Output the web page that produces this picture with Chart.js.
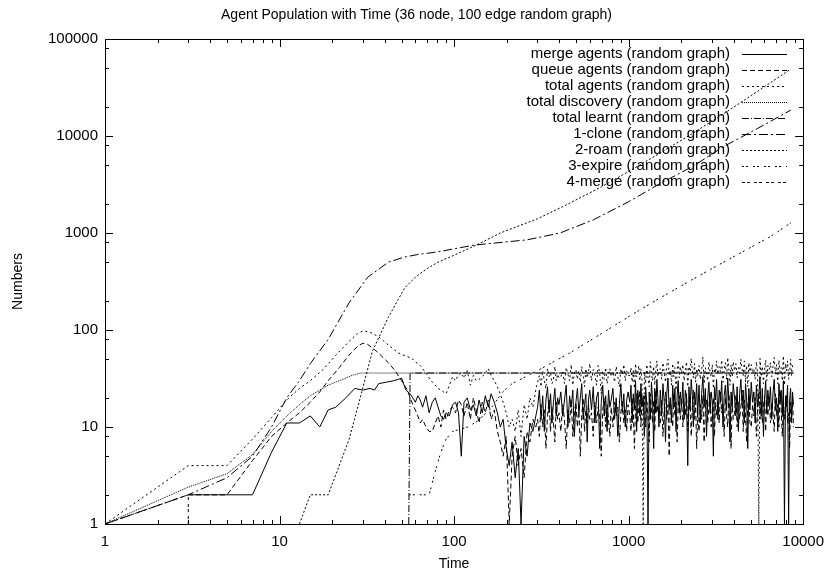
<!DOCTYPE html>
<html>
<head>
<meta charset="utf-8">
<script src="https://cdn.jsdelivr.net/npm/chart.js"></script>
<style>
  html, body { margin: 0; padding: 0; background: #fff; }
</style>
</head>
<body>
<canvas id="chart" width="833" height="574"></canvas>
<script>
// ---- data ----
const titleText = "Agent Population with Time (36 node, 100 edge random graph)";
const xTicks = [1, 10, 100, 1000, 10000];
const yTicks = [1, 10, 100, 1000, 10000, 100000];

const seriesNames = [
  "merge agents (random graph)",
  "queue agents (random graph)",
  "total agents (random graph)",
  "total discovery (random graph)",
  "total learnt (random graph)",
  "1-clone (random graph)",
  "2-roam (random graph)",
  "3-expire (random graph)",
  "4-merge (random graph)"
];

// smooth early part of the agent counts
const mergeTime = [3, 7, 9, 11, 13, 15, 17, 19, 21, 24, 27, 30, 33, 35, 37, 41, 45, 48, 50, 53];
const mergeEarly = [2, 2, 5.5, 11, 11, 13, 10, 15, 16, 20, 25, 24, 25, 24, 28, 29, 30, 31, 32, 24];
const queueTime = [1, 3, 5, 7, 9, 11, 13, 15, 17, 19, 22, 25, 28, 30, 32, 35, 38, 42, 46, 50, 54];
const queueEarly = [1, 2, 2, 4.5, 8, 11, 14, 18, 23, 30, 41, 55, 68, 73, 71, 63, 55, 46, 38, 30, 24];
const totalTime = [1, 3, 5, 7, 9, 11, 13, 15, 18, 21, 25, 28, 30, 33, 37, 42, 48, 54];
const totalEarly = [1, 4, 4, 7.5, 12.5, 19, 25, 30, 40, 55, 76, 92, 98, 95, 85, 70, 58, 53];

// noisy part (shared time grid)
const noiseTime = [
  56, 58, 60, 62, 64, 66, 69, 72, 75, 78,
  81, 84, 87, 90, 94, 98, 102, 106, 110, 114,
  119, 124, 129, 134, 139, 145, 151, 157, 163, 170,
  177, 184, 191, 199, 207, 215, 224, 233, 242, 252,
  262, 272, 283, 294,
  301, 308, 315, 322, 329, 336, 343, 350, 357, 364, 371, 378, 385, 392, 399,
  409, 419, 429, 439, 449, 459, 469, 479, 489, 499, 509, 519, 529, 539, 549, 559, 569, 579, 589, 599,
  613, 627, 641, 655, 669, 683, 697, 711, 725, 739, 753, 767, 781, 795,
  813, 831, 849, 867, 885, 903, 921, 939, 957, 975, 993,
  1016, 1032, 1048, 1064, 1080, 1096, 1112, 1128, 1144, 1160, 1176, 1192,
  1212, 1232, 1252, 1272, 1292, 1312, 1332, 1352, 1372, 1392, 1412, 1432, 1452, 1472, 1492,
  1519, 1546, 1573, 1600, 1627, 1654, 1681, 1708, 1735, 1762, 1789, 1816, 1843, 1870, 1897, 1924, 1951, 1978,
  2012, 2046, 2080, 2114, 2148, 2182, 2216, 2250, 2284, 2318, 2352, 2386, 2420, 2454, 2488,
  2532, 2576, 2620, 2664, 2708, 2752, 2796, 2840, 2884, 2928, 2972, 3016, 3060, 3104, 3148, 3192,
  3248, 3304, 3360, 3416, 3472, 3528, 3584, 3640, 3696, 3752, 3808, 3864, 3920, 3976,
  4046, 4116, 4186, 4256, 4326, 4396, 4466, 4536, 4606, 4676, 4746, 4816, 4886, 4956,
  5044, 5132, 5220, 5308, 5396, 5484, 5572, 5660, 5748, 5836, 5924, 6012, 6100, 6188, 6276,
  6386, 6496, 6606, 6716, 6826, 6936, 7046, 7156, 7266, 7376, 7486, 7596, 7706, 7816, 7926,
  8036, 8146, 8256, 8366, 8476, 8586, 8696, 8800
];
const mergeNoise = [
  22, 20, 18, 21, 19, 16, 21, 14, 18, 20,
  16, 13, 12, 14, 13, 17, 18, 14, 5, 18,
  20, 15, 17, 13, 19, 14, 21, 16, 22, 18,
  14, 10, 12, 6, 4, 7, 3, 6, 1, 8,
  5, 11, 9, 13,
  16, 24, 12, 21, 9, 19, 26, 14, 22, 11, 18, 25, 13, 20, 17,
  23, 13, 19, 27, 10, 21, 16, 24, 8, 18, 25, 14, 20, 28, 12, 17, 22, 7, 19, 24,
  15, 26, 11, 20, 23, 6, 18, 27, 13, 21, 9, 24, 16, 19,
  25, 12, 20, 8, 17, 28, 14, 22, 10, 19, 23,
  18, 27, 11, 22, 15, 30, 9, 24, 19, 13, 28, 16,
  21, 8, 26, 17, 1, 23, 12, 29, 19, 6, 25, 14, 31, 20, 10,
  24, 13, 28, 18, 7, 22, 32, 15, 20, 11, 27, 17, 25, 9, 21, 30, 14, 23,
  16, 29, 12, 24, 19, 4, 26, 15, 31, 21, 10, 23, 17, 28, 13,
  27, 11, 22, 33, 16, 25, 8, 20, 29, 14, 23, 18, 5, 26, 19, 31,
  12, 24, 18, 30, 10, 21, 27, 15, 32, 19, 7, 23, 16, 28,
  20, 13, 26, 9, 22, 31, 17, 24, 11, 28, 19, 6, 25, 15,
  29, 18, 23, 11, 27, 16, 21, 33, 13, 25, 8, 20, 30, 14, 24,
  17, 26, 12, 22, 31, 15, 20, 9, 28, 18, 24, 13, 30, 1, 21,
  16, 27, 1, 19, 25, 11, 23, 17
];
const queueNoise = [
  20, 17, 15, 13, 11, 12, 10, 9, 9, 11,
  13, 10, 15, 12, 15, 16, 14, 19, 17, 13,
  18, 12, 20, 15, 11, 18, 14, 19, 12, 15,
  9, 7, 5, 8, 1, 5, 8, 4, 6, 3,
  9, 7, 12, 10,
  12, 8, 17, 10, 15, 6, 13, 19, 9, 16, 11, 7, 18, 12, 14,
  9, 17, 12, 6, 15, 11, 19, 8, 14, 18, 10, 16, 5, 13, 20, 9, 15, 11, 17, 12,
  14, 8, 18, 11, 16, 13, 5, 15, 20, 10, 17, 12, 8, 16,
  10, 18, 13, 16, 7, 14, 19, 11, 15, 9, 17,
  13, 9, 20, 14, 6, 17, 22, 11, 16, 24, 10, 19,
  16, 21, 10, 18, 13, 7, 22, 15, 11, 19, 9, 24, 14, 17, 12,
  11, 19, 8, 15, 23, 12, 17, 5, 20, 14, 10, 22, 13, 18, 7, 16, 21, 12,
  20, 10, 17, 13, 22, 9, 15, 19, 8, 16, 24, 12, 18, 6, 14,
  9, 17, 12, 21, 7, 15, 19, 11, 16, 23, 10, 14, 20, 8, 18, 13,
  19, 11, 23, 14, 17, 8, 20, 13, 10, 22, 15, 6, 18, 12,
  14, 21, 10, 18, 12, 16, 24, 9, 19, 13, 7, 17, 22, 11,
  10, 17, 13, 20, 8, 15, 23, 12, 18, 11, 16, 21, 9, 19, 13,
  20, 11, 18, 14, 9, 22, 13, 17, 10, 24, 15, 8, 19, 12, 16,
  21, 11, 14, 6, 18, 13, 20, 10
];
const totalNoise = [
  52, 50, 47, 45, 43, 40, 36, 32, 29, 27,
  25, 24, 23, 22, 27, 33, 30, 35, 36, 32,
  38, 27, 34, 30, 31, 33, 36, 40, 34, 30,
  26, 22, 18, 14, 10, 12, 9, 15, 8, 17,
  12, 20, 16, 24,
  29, 34, 26, 38, 30, 25, 40, 33, 36, 28, 31, 42, 30, 35, 32,
  33, 37, 28, 41, 35, 30, 44, 27, 36, 39, 31, 38, 29, 42, 34, 26, 40, 32, 37, 45,
  30, 39, 34, 27, 43, 36, 22, 38, 31, 41, 28, 35, 40, 33,
  37, 29, 42, 33, 26, 40, 35, 44, 30, 38, 34,
  34, 41, 29, 38, 25, 45, 33, 36, 43, 30, 40, 31,
  1, 37, 28, 44, 32, 26, 47, 35, 30, 42, 27, 39, 48, 33, 36,
  40, 31, 46, 36, 29, 43, 50, 34, 38, 27, 45, 33, 41, 24, 37, 49, 32, 42,
  36, 44, 30, 39, 47, 26, 42, 35, 51, 38, 32, 45, 29, 40, 34,
  43, 31, 38, 53, 28, 41, 35, 30, 47, 37, 33, 44, 25, 40, 36, 48,
  35, 42, 37, 49, 29, 39, 46, 31, 52, 40, 27, 44, 33, 47,
  38, 45, 32, 41, 36, 50, 40, 34, 48, 29, 43, 26, 46, 37,
  44, 36, 40, 31, 47, 35, 1, 51, 33, 42, 28, 39, 49, 30, 43,
  39, 46, 33, 42, 52, 35, 44, 28, 49, 37, 41, 30, 54, 27, 45,
  38, 48, 31, 36, 50, 34, 43, 40
];

const discoveryTime = [1, 3, 5, 7, 9, 11, 13, 15, 17, 19, 22, 26, 29, 8800];
const discovery = [1, 2.4, 3.3, 5.2, 9, 13, 17, 21, 24, 27, 30, 34, 36, 36];
const learntTime = [55, 56, 8800];
const learnt = [1, 36, 36];
const cloneTime = [1, 3, 5, 7, 9, 11, 13, 15, 19, 25, 32, 42, 52, 62, 81, 130, 262, 405, 630, 1000, 1500, 2300, 3600, 5500, 8500];
const clone = [1, 2, 3, 5, 10, 20, 30, 45, 80, 190, 350, 500, 565, 600, 640, 750, 850, 1000, 1370, 2100, 3200, 4800, 8000, 12000, 18500];
const roamTime = [13, 15, 19, 25, 29, 34, 42, 52, 60, 70, 81, 100, 136, 184, 300, 440, 700, 1000, 1500, 2300, 3600, 5500, 8500];
const roam = [1, 2, 2, 7.4, 20, 60, 135, 270, 350, 430, 500, 590, 760, 1000, 1400, 1950, 3000, 4300, 6600, 10500, 17500, 29000, 49000];
const expireTime = [55, 72, 78, 84, 90, 98, 120, 136, 160, 190, 215, 300, 460, 720, 1020, 1420, 2000, 3000, 4500, 6500, 8500];
const expire = [2, 2, 3.5, 5.5, 7.5, 9, 10, 11.5, 15, 23, 28, 38, 58, 95, 140, 200, 285, 430, 640, 920, 1270];
const mergeEvTime = [3, 3];
const mergeEv = [1, 2];

// gnuplot-ish dash patterns, one per series
const dashes = [[], [5, 3], [2, 3], [1, 1], [7, 2, 1, 2], [9, 3, 2, 3], [2, 2], [2, 2, 2, 5], [3, 2, 3, 4]];

const FONT = "Liberation Sans, Arial, sans-serif";

function pairs(times, values) {
  if (times.length !== values.length) throw new Error("length mismatch " + times.length + " vs " + values.length);
  return times.map((t, i) => ({ x: t, y: values[i] }));
}

const seriesData = [
  pairs(mergeTime, mergeEarly).concat(pairs(noiseTime, mergeNoise)),
  pairs(queueTime, queueEarly).concat(pairs(noiseTime, queueNoise)),
  pairs(totalTime, totalEarly).concat(pairs(noiseTime, totalNoise)),
  pairs(discoveryTime, discovery),
  pairs(learntTime, learnt),
  pairs(cloneTime, clone),
  pairs(roamTime, roam),
  pairs(expireTime, expire),
  pairs(mergeEvTime, mergeEv)
];

const datasets = seriesNames.map((name, i) => ({
  label: name,
  data: seriesData[i],
  borderColor: "#000",
  borderWidth: 1,
  borderDash: dashes[i],
  pointRadius: 0,
  fill: false,
  tension: 0
}));

// frame with inward ticks on all four sides, like gnuplot's border
const gnuFrame = {
  id: "gnuFrame",
  afterDatasetsDraw(chart) {
    const { ctx, chartArea: a, scales: { x, y } } = chart;
    ctx.save();
    ctx.strokeStyle = "#000";
    ctx.lineWidth = 1;
    ctx.setLineDash([]);
    ctx.strokeRect(Math.round(a.left) + 0.5, Math.round(a.top) + 0.5, Math.round(a.right - a.left), Math.round(a.bottom - a.top));
    ctx.beginPath();
    const xt = (v, len) => {
      const px = Math.round(x.getPixelForValue(v)) + 0.5;
      ctx.moveTo(px, a.bottom); ctx.lineTo(px, a.bottom - len);
      ctx.moveTo(px, a.top); ctx.lineTo(px, a.top + len);
    };
    const yt = (v, len) => {
      const py = Math.round(y.getPixelForValue(v)) + 0.5;
      ctx.moveTo(a.left, py); ctx.lineTo(a.left + len, py);
      ctx.moveTo(a.right, py); ctx.lineTo(a.right - len, py);
    };
    xTicks.forEach(d => {
      xt(d, 8);
      if (d < 10000) for (let m = 2; m <= 9; m++) xt(d * m, 4);
    });
    yTicks.forEach(d => {
      yt(d, 8);
      if (d < 100000) [2, 5, 8].forEach(m => yt(d * m, 4));
    });
    ctx.stroke();
    ctx.restore();
  }
};

// key in the upper right, text right-aligned with the line sample after it
const gnuKey = {
  id: "gnuKey",
  afterDatasetsDraw(chart) {
    const { ctx } = chart;
    ctx.save();
    ctx.font = "15px " + FONT;
    ctx.fillStyle = "#000";
    ctx.textAlign = "right";
    ctx.textBaseline = "middle";
    chart.data.datasets.forEach((ds, i) => {
      const yy = 54 + i * 16;
      ctx.fillText(ds.label, 730, yy);
      ctx.beginPath();
      ctx.setLineDash(ds.borderDash);
      ctx.strokeStyle = "#000";
      ctx.lineWidth = 1;
      ctx.moveTo(742, Math.round(yy) + 0.5);
      ctx.lineTo(787, Math.round(yy) + 0.5);
      ctx.stroke();
    });
    ctx.restore();
  }
};

// title centred on the whole page, as gnuplot does
const gnuTitle = {
  id: "gnuTitle",
  afterDraw(chart) {
    const { ctx, width } = chart;
    ctx.save();
    ctx.font = "14px " + FONT;
    ctx.fillStyle = "#000";
    ctx.textAlign = "center";
    ctx.textBaseline = "middle";
    ctx.fillText(titleText, width / 2, 15);
    ctx.restore();
  }
};

new Chart(document.getElementById("chart"), {
  type: "line",
  data: { datasets },
  options: {
    responsive: false,
    animation: false,
    events: [],
    layout: { padding: { left: 0, right: 25, top: 39, bottom: 0 } },
    plugins: {
      legend: { display: false },
      tooltip: { enabled: false },
      title: { display: false }
    },
    scales: {
      x: {
        type: "logarithmic",
        min: 1,
        max: 10000,
        grid: { display: false, drawTicks: false },
        border: { display: false },
        afterBuildTicks: s => { s.ticks = xTicks.map(v => ({ value: v })); },
        afterFit: s => { s.height = 50; },
        ticks: {
          color: "#000",
          font: { family: FONT, size: 15 },
          padding: 9,
          maxRotation: 0,
          autoSkip: false,
          callback: v => String(v)
        },
        title: {
          display: true,
          text: "Time",
          color: "#000",
          font: { family: FONT, size: 14 },
          padding: { top: 0, bottom: 1 }
        }
      },
      y: {
        type: "logarithmic",
        min: 1,
        max: 100000,
        grid: { display: false, drawTicks: false },
        border: { display: false },
        afterBuildTicks: s => { s.ticks = yTicks.map(v => ({ value: v })); },
        afterFit: s => { s.width = 105; },
        ticks: {
          color: "#000",
          font: { family: FONT, size: 15 },
          padding: 7,
          autoSkip: false,
          callback: v => String(v)
        },
        title: {
          display: true,
          text: "Numbers",
          color: "#000",
          font: { family: FONT, size: 14 },
          padding: { top: 10, bottom: 0 }
        }
      }
    }
  },
  plugins: [gnuFrame, gnuKey, gnuTitle]
});
</script>
</body>
</html>
